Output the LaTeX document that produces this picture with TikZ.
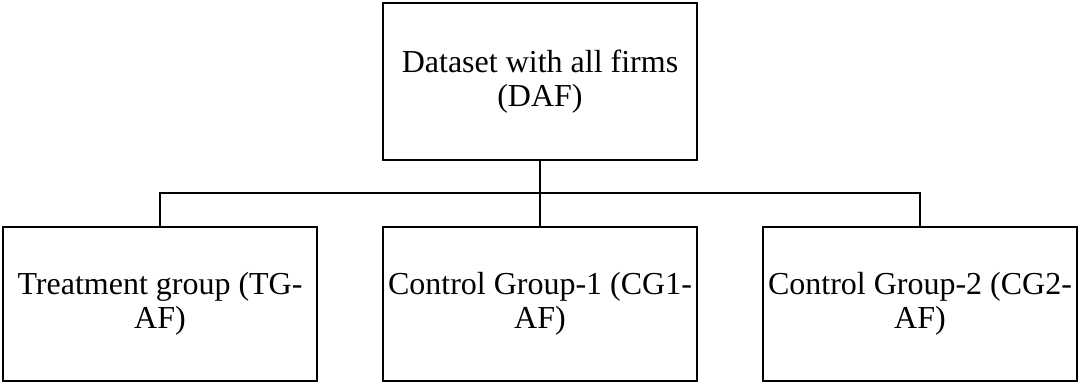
\documentclass[tikz,border=0pt]{standalone}
\usepackage{fontspec}
\setmainfont{Liberation Serif}
\begin{document}
\begin{tikzpicture}[x=1pt,y=-1pt,
  box/.style={draw, line width=2.8pt, align=center, inner sep=0pt,
    font=\fontsize{32}{34}\selectfont,
    execute at begin node={\rule{0pt}{33pt}}},
  link/.style={line width=2.6pt}]
\useasboundingbox (0,0) rectangle (1078,383);
% root dataset
\node[box, minimum width=314pt, minimum height=157pt] (daf) at (540,81.5)
  {Dataset with all firms\\(DAF)};
% the three groups
\node[box, minimum width=314pt, minimum height=154pt] (tg) at (160,304)
  {Treatment group (TG-\\AF)};
\node[box, minimum width=314pt, minimum height=154pt] (cg1) at (540,304)
  {Control Group-1 (CG1-\\AF)};
\node[box, minimum width=314pt, minimum height=154pt] (cg2) at (920,304)
  {Control Group-2 (CG2-\\AF)};
% tree connectors
\coordinate (bar) at (540,193);
\draw[link] (daf) -- (bar);
\draw[link] (tg.north) |- (bar) -| (cg2.north);
\draw[link] (bar) -- (cg1.north);
\end{tikzpicture}
\end{document}
